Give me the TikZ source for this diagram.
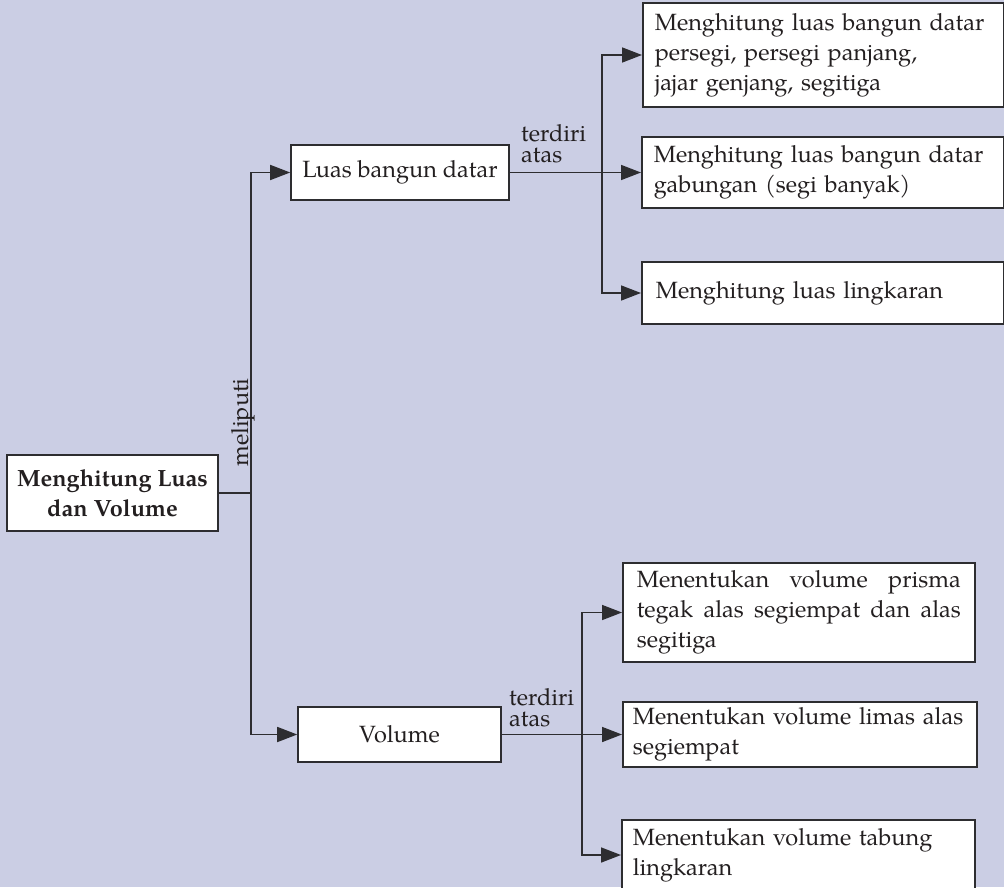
\documentclass[tikz,border=0pt]{standalone}
\usepackage{fontspec}
\setmainfont{TeX Gyre Pagella}
\usepackage{tikz}
\usetikzlibrary{arrows.meta,positioning}
\definecolor{bglav}{RGB}{203,206,228}
\definecolor{linegray}{RGB}{45,45,48}
\definecolor{inkblack}{RGB}{35,31,32}

\begin{document}
\begin{tikzpicture}[x=0.5pt, y=-0.5pt,
    box/.style={draw=linegray, fill=white, line width=0.8pt, text=inkblack,
        font=\fontsize{11.75}{15}\selectfont, inner sep=0pt},
    leaf/.style={box, anchor=west, align=left, inner xsep=6pt},
    lbl/.style={text=inkblack, inner sep=0pt, align=left,
        font=\fontsize{11.75}{10.5}\selectfont},
    conn/.style={draw=linegray, line width=0.8pt},
    arr/.style={conn, -{Triangle[length=10pt,width=7.5pt]}}]

% Page and background
\useasboundingbox (0,0) rectangle (1004,887);
\fill[bglav] (0,0) rectangle (1004,887);

% Root and the two main branches
\node[box, minimum width=105.5pt, minimum height=38pt, align=center,
    font=\fontsize{11.75}{15}\selectfont\bfseries] (root) at (112.5,493) {Menghitung Luas\\dan Volume};
\node[box, minimum width=109pt, minimum height=27.5pt] (luas) at (400,172.5) {Luas bangun datar};
\node[box, minimum width=101.5pt, minimum height=27.5pt] (volume) at (399.5,734.5) {Volume};

% Leaves of Luas bangun datar
\node[leaf, text width=168.5pt, minimum height=52pt] (l1) at (642,55)
    {Menghitung luas bangun datar\\persegi, persegi panjang,\\jajar genjang, segitiga};
\node[leaf, text width=169pt, minimum height=35.5pt] (l2) at (641,172.5)
    {Menghitung luas bangun datar\\gabungan (segi banyak)};
\node[leaf, text width=167pt, inner xsep=7pt, minimum height=31pt] (l3) at (641,293)
    {Menghitung luas lingkaran};

% Leaves of Volume
\node[leaf, align=justify, text width=162pt, inner xsep=7pt, minimum height=49.5pt] (v1) at (622,612.5)
    {Menentukan volume prisma tegak alas segiempat dan alas segitiga};
\node[leaf, text width=167pt, inner xsep=5pt, minimum height=32.5pt] (v2) at (622,734.5)
    {Menentukan volume limas alas\\segiempat};
\node[leaf, text width=165.5pt, inner xsep=5.5pt, minimum height=35pt] (v3) at (621,855)
    {Menentukan volume tabung\\lingkaran};

% Connectors
\coordinate (trunk) at (251,493);
\coordinate (forkL) at (602,172.5);
\coordinate (forkV) at (582,734.5);

\draw[conn] (root.east) -- (trunk);
\draw[arr] (trunk) |- (luas);
\draw[arr] (trunk) |- (volume);

\draw[arr] (luas.east) -- (l2.west);
\draw[arr] (forkL) |- (l1);
\draw[arr] (forkL) |- (l3);

\draw[arr] (volume.east) -- (v2.west);
\draw[arr] (forkV) |- (v1);
\draw[arr] (forkV) |- (v3);

% Labels
\node[lbl, rotate=90, anchor=base west] (meliputi) at (248,467) {meliputi};
\node[lbl, anchor=south west] (terdiriL) at ([xshift=5.5pt,yshift=4.5pt]luas.east) {terdiri\\atas};
\node[lbl, anchor=south west] (terdiriV) at ([xshift=3.5pt,yshift=3.5pt]volume.east) {terdiri\\atas};

\end{tikzpicture}
\end{document}
